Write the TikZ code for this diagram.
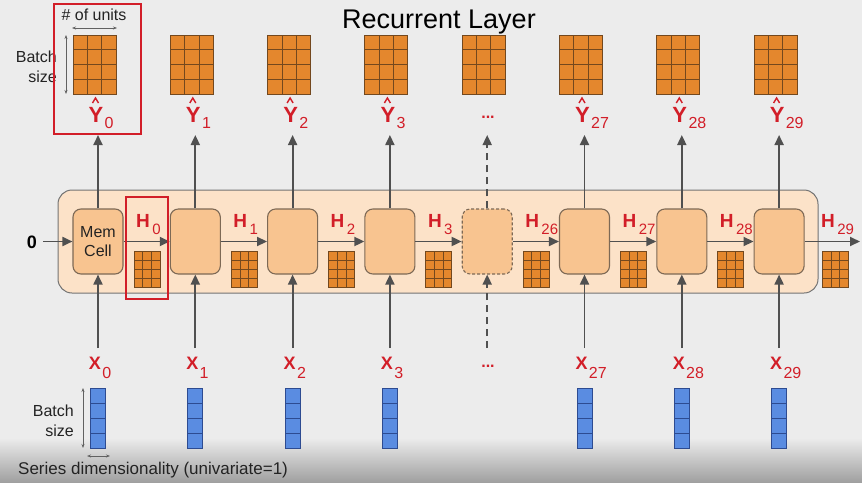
\documentclass[tikz,border=0pt]{standalone}
\usepackage{fontspec}
\setmainfont{Liberation Sans}
\usetikzlibrary{arrows.meta,calc}
\definecolor{bg}{RGB}{236,236,236}
\definecolor{bgdark}{RGB}{160,160,160}
\definecolor{cellfill}{RGB}{248,196,144}
\definecolor{cellline}{RGB}{125,105,85}
\definecolor{layerfill}{RGB}{252,226,200}
\definecolor{layerline}{RGB}{115,115,115}
\definecolor{gridfill}{RGB}{228,135,45}
\definecolor{gridline}{RGB}{115,72,30}
\definecolor{bluefill}{RGB}{90,140,225}
\definecolor{blueline}{RGB}{45,75,145}
\definecolor{labred}{RGB}{210,30,40}
\definecolor{arrowgray}{RGB}{80,80,80}
\definecolor{textdark}{RGB}{35,35,35}
\tikzset{
  arr/.style={draw=arrowgray, line width=1.8pt, -{Triangle[length=10pt,width=9pt]}},
  dimarr/.style={draw=arrowgray!90, line width=0.7pt, {Stealth[length=4pt,width=3pt]}-{Stealth[length=4pt,width=3pt]}},
  cellbox/.style={draw=cellline, fill=cellfill, line width=1.1pt, rounded corners=8pt, minimum width=50pt, minimum height=65pt, inner sep=0pt, font=\fontsize{16}{19}\selectfont, text=textdark, align=center},
  layerbox/.style={draw=layerline, fill=layerfill, line width=1pt, rounded corners=14pt, minimum width=760pt, minimum height=103pt, inner sep=0pt},
  ogrid/.style={draw=gridline, fill=gridfill, line width=0.9pt, inner sep=0pt,
    path picture={
      \foreach \k in {1,2} {\draw[gridline, line width=0.8pt] ($(path picture bounding box.south west)!\k/3!(path picture bounding box.south east)$) -- ($(path picture bounding box.north west)!\k/3!(path picture bounding box.north east)$);}
      \foreach \k in {1,2,3} {\draw[gridline, line width=0.8pt] ($(path picture bounding box.south west)!\k/4!(path picture bounding box.north west)$) -- ($(path picture bounding box.south east)!\k/4!(path picture bounding box.north east)$);}
    }},
  bgrid/.style={draw=blueline, fill=bluefill, line width=0.9pt, inner sep=0pt, minimum width=15pt, minimum height=60pt,
    path picture={
      \foreach \k in {1,2,3} {\draw[blueline, line width=0.8pt] ($(path picture bounding box.south west)!\k/4!(path picture bounding box.north west)$) -- ($(path picture bounding box.south east)!\k/4!(path picture bounding box.north east)$);}
    }},
  ylab/.style={inner sep=0pt, text=labred, font=\bfseries\fontsize{22}{22}\selectfont},
  xlab/.style={inner sep=0pt, text=labred, font=\bfseries\fontsize{18}{18}\selectfont},
  hlab/.style={inner sep=0pt, text=labred, font=\bfseries\fontsize{19}{19}\selectfont},
  sublab/.style={inner sep=0pt, text=labred, font=\fontsize{16}{16}\selectfont},
  hsub/.style={inner sep=0pt, text=labred, font=\fontsize{15}{15}\selectfont},
  dots/.style={inner sep=0pt, text=labred, font=\bfseries\fontsize{16}{16}\selectfont},
  plain/.style={inner sep=0pt, text=textdark, font=\fontsize{16}{20}\selectfont},
  hilite/.style={draw=labred, line width=1.5pt},
  hat/.style={draw=labred, line width=1.4pt}
}
\begin{document}
\begin{tikzpicture}[x=1pt,y=-1pt]
\useasboundingbox (0,0) rectangle (862,482);
\fill[bg] (0,0) rectangle (862,482);
\shade[top color=bg, bottom color=bgdark] (0,438) rectangle (862,482);

% title
\node[inner sep=0pt, text=black, font=\fontsize{27}{27}\selectfont] (title) at (439,22) {Recurrent Layer};

% layer container
\node[layerbox] (layer) at (438,241.5) {};

% cells
\node[cellbox] (c0) at (98,241.5) {Mem\\Cell};
\foreach \i/\x in {1/195.3,2/292.6,3/389.9,5/584.5,6/681.8,7/779.1}
  \node[cellbox] (c\i) at (\x,241.5) {};
\node[cellbox, dash pattern=on 3pt off 2pt] (c4) at (487.2,241.5) {};

% horizontal arrows
\node[inner sep=0pt, font=\bfseries\fontsize{18}{18}\selectfont] (zero) at (32,242) {0};
\coordinate (zs) at (43,241.5);
\draw[arr] (zs) -- (c0);
\foreach \i/\j in {0/1,1/2,2/3,3/4,4/5,5/6,6/7}
  \draw[arr] (c\i) -- (c\j);
\coordinate (hout) at (860,241.5);
\draw[arr] (c7) -- (hout);

% vertical arrows
\foreach \i/\x in {0/98,1/195.3,2/292.6,3/389.9,5/584.5,6/681.8,7/779.1} {
  \coordinate (yt\i) at (\x,135);
  \coordinate (xb\i) at (\x,348);
  \draw[arr] (c\i) -- (yt\i);
  \draw[arr] (xb\i) -- (c\i);
}
\coordinate (yt4) at (487.2,135);
\coordinate (xb4) at (487.2,348);
\draw[arr, dash pattern=on 7pt off 5pt] (c4) -- (yt4);
\draw[arr, dash pattern=on 7pt off 5pt] (xb4) -- (c4);

% output grids
\foreach \i/\x in {0/98,1/195.3,2/292.6,3/389.9,4/487.2,5/584.5,6/681.8,7/779.1}
  \node[ogrid, minimum width=43pt, minimum height=59pt] (yg\i) at (\x-3.5,64.5) {};

% hidden-state grids
\foreach \i/\x in {0/147,1/244.3,2/341.6,3/438.9,4/536.2,5/633.5,6/730.8,7/835.5}
  \node[ogrid, minimum width=26pt, minimum height=36pt] (hg\i) at (\x,269) {};

% input columns
\foreach \i/\x in {0/98,1/195.3,2/292.6,3/389.9,5/584.5,6/681.8,7/779.1}
  \node[bgrid] (xg\i) at (\x,418) {};

% Y labels
\foreach \i/\x/\n in {0/98/0,1/195.3/1,2/292.6/2,3/389.9/3,5/584.5/27,6/681.8/28,7/779.1/29} {
  \node[ylab, anchor=base] (yl\i) at (\x-2,122) {Y};
  \node[sublab, anchor=base west] (ys\i) at ([xshift=1pt,yshift=-6pt]yl\i.base east) {\n};
  \draw[hat] (\x-5.5,103) -- (\x-2.5,98) -- (\x+0.5,103);
}
\node[dots] (ydots) at (488,117) {...};

% H labels
\foreach \i/\x/\n in {0/147/0,1/244.3/1,2/341.6/2,3/438.9/3,4/536.2/26,5/633.5/27,6/730.8/28,7/832/29} {
  \node[hlab, anchor=base] (hl\i) at (\x-4,227) {H};
  \node[hsub, anchor=base west] (hs\i) at ([xshift=2pt,yshift=-7pt]hl\i.base east) {\n};
}

% X labels
\foreach \i/\x/\n in {0/98/0,1/195.3/1,2/292.6/2,3/389.9/3,5/584.5/27,6/681.8/28,7/779.1/29} {
  \node[xlab, anchor=base] (xl\i) at (\x-3,369) {X};
  \node[sublab, anchor=base west] (xs\i) at ([xshift=1pt,yshift=-9pt]xl\i.base east) {\n};
}
\node[dots] (xdots) at (488,366) {...};

% annotations top
\node[plain] (units) at (94,15) {\# of units};
\coordinate (ua) at (72,28);
\coordinate (ub) at (117,28);
\draw[dimarr] (ua) -- (ub);
\node[plain, align=right, anchor=east] (bs1) at (57,67) {Batch\\size};
\coordinate (va) at (66,35);
\coordinate (vb) at (66,94);
\draw[dimarr] (va) -- (vb);

% annotations bottom
\node[plain, align=right, anchor=east] (bs2) at (74,421) {Batch\\size};
\coordinate (wa) at (83,388);
\coordinate (wb) at (83,448);
\draw[dimarr] (wa) -- (wb);
\coordinate (sa) at (87,456);
\coordinate (sb) at (110,456);
\draw[dimarr] (sa) -- (sb);
\node[inner sep=0pt, anchor=west, text=textdark, font=\fontsize{17}{17}\selectfont] (series) at (18,470) {Series dimensionality (univariate=1)};

% highlight boxes
\draw[hilite] (54,4) rectangle (141,134);
\draw[hilite] (126,197) rectangle (168,299);
\end{tikzpicture}
\end{document}
